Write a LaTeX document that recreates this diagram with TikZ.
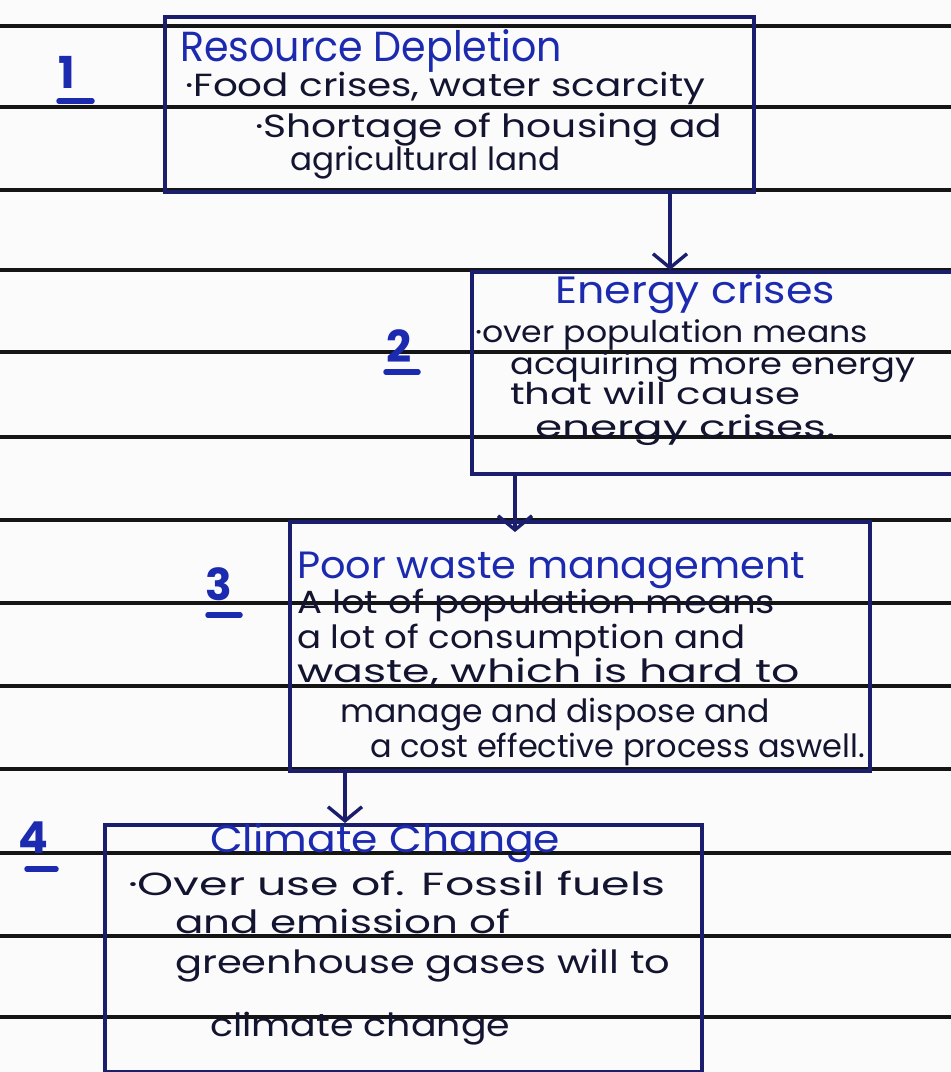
\documentclass[tikz,border=0pt]{standalone}
\usepackage{fontspec}
\setmainfont{Poppins}
\usetikzlibrary{arrows.meta}
\definecolor{ink}{HTML}{131430}
\definecolor{navy}{HTML}{1A1E6C}
\definecolor{pen}{HTML}{1C2AB0}
\definecolor{rule}{HTML}{151515}
\definecolor{paper}{HTML}{FBFBFB}
% stretch a line of text to a given width, keeping its height
\newcommand\fitto[2]{\resizebox{#1pt}{\height}{#2}}

\begin{document}
\begin{tikzpicture}[x=1pt,y=-1pt,
  ruling/.style={rule, line width=3.2pt},
  card/.style={draw=navy, line width=3.8pt, inner sep=0pt, anchor=north west},
  flow/.style={navy, line width=3.4pt, -{Straight Barb[length=14pt,width=34pt]}},
  head/.style={pen, font=\fontsize{38}{38}\selectfont, anchor=base west, inner sep=0pt},
  body/.style={ink, font=\fontsize{32}{32}\selectfont, anchor=base west, inner sep=0pt},
  tight/.style={body, font=\fontsize{30}{30}\selectfont},
  num/.style={pen, font=\fontsize{44}{44}\selectfont\bfseries, anchor=base west, inner sep=0pt},
  numbar/.style={pen, line width=5.5pt, line cap=round}]

\fill[paper] (0,0) rectangle (951,1072);
\useasboundingbox (0,0) rectangle (951,1072);
\clip (0,0) rectangle (951,1072);

% ruled notebook lines
\foreach \y in {26,107,190,270,352,437,520,603,686,769,853,936,1017}
  \draw[ruling] (0,\y) -- (951,\y);

% boxes
\node[card, minimum width=589pt, minimum height=175pt] (b1) at (163,15) {};
\node[card, minimum width=500pt, minimum height=202pt] (b2) at (470,270) {};
\node[card, minimum width=580pt, minimum height=249pt] (b3) at (288,520) {};
\node[card, minimum width=597pt, minimum height=247pt] (b4) at (103,823) {};

% connectors
\coordinate (a2end) at (515,532);
\draw[flow] (b1.south -| 670,0) -- (b2.north -| 670,0);
\draw[flow] (b2.south -| a2end) -- (a2end);
\draw[flow] (b3.south -| 345,0) -- (b4.north -| 345,0);

% step numbers
\node[num] (n1) at (58,88) {1};
\draw[numbar] (59,101) -- (92,101);
\node[num] (n2) at (386,362) {2};
\draw[numbar] (386,372) -- (418,372);
\node[num] (n3) at (205,600) {3};
\draw[numbar] (208,615) -- (240,615);
\node[num] (n4) at (18,853) {4};
\draw[numbar] (27,869) -- (56,869);

% box 1
\node[head, font=\fontsize{42}{42}\selectfont] (t1) at (180,61) {\fitto{382}{Resource Depletion}};
\node[body] (t1a) at (185,96) {\fitto{520}{·Food crises, water scarcity}};
\node[body] (t1b) at (255,137) {\fitto{467}{·Shortage of housing ad}};
\node[body] (t1c) at (290,170) {\fitto{270}{agricultural land}};

% box 2
\node[head] (t2) at (555,303) {\fitto{280}{Energy crises}};
\node[tight] (t2a) at (475,342) {\fitto{393}{·over population means}};
\node[tight] (t2b) at (510,374) {\fitto{405}{acquiring more energy}};
\node[tight] (t2c) at (510,404) {\fitto{290}{that will cause}};
\node[tight] (t2d) at (535,437) {\fitto{300}{energy crises.}};

% box 3
\node[head] (t3) at (297,578) {\fitto{508}{Poor waste management}};
\node[body] (t3a) at (297,613) {\fitto{478}{A lot of population means}};
\node[body] (t3b) at (297,648) {\fitto{448}{a lot of consumption and}};
\node[body] (t3c) at (297,682) {\fitto{503}{waste, which is hard to}};
\node[body] (t3d) at (340,722) {\fitto{430}{manage and dispose and}};
\node[body] (t3e) at (370,757) {\fitto{495}{a cost effective process aswell.}};

% box 4
\node[head] (t4) at (210,852) {\fitto{350}{Climate Change}};
\node[body] (t4a) at (128,895) {\fitto{537}{·Over use of. Fossil fuels}};
\node[body] (t4b) at (175,933) {\fitto{335}{and emission of}};
\node[body] (t4c) at (175,973) {\fitto{495}{greenhouse gases will to}};
\node[body] (t4d) at (210,1036) {\fitto{300}{climate change}};
\end{tikzpicture}
\end{document}
